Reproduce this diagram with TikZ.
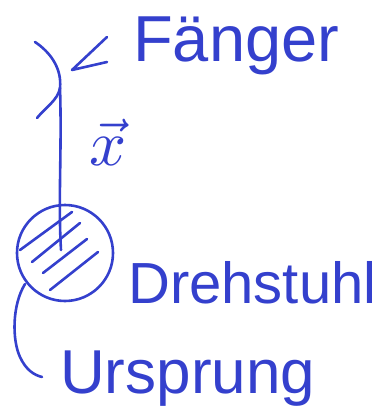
\documentclass[tikz,border=0pt]{standalone}
\usepackage{fontspec}
\usepackage{graphicx}
\setmainfont{Liberation Sans}
\definecolor{pen}{RGB}{52,64,205}
\begin{document}
\begin{tikzpicture}[x=1pt,y=-1pt,
  stroke/.style={draw=pen,line width=2.6pt,line cap=round,line join=round},
  lbl/.style={text=pen,inner sep=0pt,anchor=base west}]
\useasboundingbox (0,0) rectangle (382,409);
% labels
\node[lbl] (faenger) at (133,62) {\fontsize{65}{70}\selectfont Fänger};
\node[lbl] (dreh) at (128,303) {\fontsize{58}{60}\selectfont Drehstuhl};
\node[lbl] (urspr) at (60,393) {\fontsize{62}{66}\selectfont Ursprung};
\node[text=pen,inner sep=0pt] (xvec) at (108,142) {\scalebox{6.5}{$\vec{x}$}};
% coordinates
\coordinate (ctop) at (35,42);
\coordinate (cmid) at (60,88);
\coordinate (cbot) at (37,118);
\coordinate (tip) at (72,70);
\coordinate (a1) at (107,37);
\coordinate (a2) at (107,62);
\coordinate (center) at (61,250);
\coordinate (o1) at (25,284);
\coordinate (o2) at (42,377);
% Fänger bracket
\draw[stroke] (ctop) .. controls (50,52) and (62,68) .. (cmid) .. controls (58,100) and (45,108) .. (cbot);
% arrow
\draw[stroke] (a1) -- (tip) -- (a2);
% rod
\draw[stroke] (cmid) .. controls (62,150) and (58,200) .. (center);
% chair
\node[stroke,circle,minimum size=96pt,inner sep=0pt] (chair) at (65,253) {};
\draw[stroke] (20,250) -- (72,212);
\draw[stroke] (32,262) -- (80,223);
\draw[stroke] (43,273) -- (87,239);
\draw[stroke] (50,290) -- (98,252);
% origin line
\draw[stroke] (o1) .. controls (12,305) and (12,340) .. (20,357) .. controls (26,370) and (34,375) .. (o2);
\end{tikzpicture}
\end{document}
